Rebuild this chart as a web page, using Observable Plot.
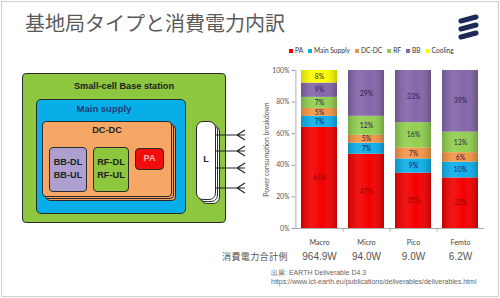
<!DOCTYPE html>
<html>
<head>
<meta charset="utf-8">
<script src="https://cdn.jsdelivr.net/npm/d3@7"></script>
<script src="https://cdn.jsdelivr.net/npm/@observablehq/plot@0.6"></script>
<style>
  html, body { margin: 0; padding: 0; background: #fff; }
  #slide { position: relative; width: 500px; height: 298px; overflow: hidden; background: #fff; font-family: "Liberation Sans", Arial, sans-serif; }
  #frame { position: absolute; left: 1px; top: 1px; width: 496px; height: 294px; border: 1px solid #cfcfcf; }
  .abs { position: absolute; }
  #title { left: 25px; top: 11px; font-family: "Noto Sans CJK JP", sans-serif; font-size: 20px; line-height: 24px; color: #5a5a5a; white-space: nowrap; }
  .box { position: absolute; box-sizing: border-box; border: 1.3px solid #2a2a2a; }
  .lbl { position: absolute; font-weight: bold; white-space: nowrap; text-align: center; }
  #legend { position: absolute; left: 289px; top: 46px; display: flex; gap: 5px; font-family: Lato, sans-serif; font-size: 6.6px; color: #333; white-space: nowrap; }
  #legend span.sw { display: inline-block; width: 4px; height: 4px; margin-right: 2px; vertical-align: 0px; }
  #chart { position: absolute; left: 250px; top: 60px; }
  #totalLabel { left: 222px; top: 250px; font-family: "Noto Sans CJK JP", sans-serif; font-size: 9px; color: #555; letter-spacing: 0.4px; }
  #source { left: 271px; top: 268px; font-size: 7px; line-height: 9px; color: #666; }
</style>
</head>
<body>
<div id="slide">
  <div id="frame"></div>
  <div id="title" class="abs">基地局タイプと消費電力内訳</div>
  <svg class="abs" style="left:455px;top:14px" width="28" height="28" viewBox="0 0 28 28">
    <g stroke="#1d2a57" stroke-width="5" stroke-linecap="round">
      <line x1="6" y1="7" x2="21" y2="3"/>
      <line x1="6" y1="15" x2="21" y2="11"/>
      <line x1="6" y1="23" x2="21" y2="19"/>
    </g>
  </svg>

  <!-- block diagram -->
  <div class="box" style="left:22px;top:73px;width:204px;height:150px;background:#8dc63f;border-radius:4px;"></div>
  <div class="lbl" style="left:22px;top:81px;width:204px;font-size:9.2px;color:#222;">Small-cell Base station</div>
  <div class="box" style="left:36px;top:99px;width:150px;height:115px;background:#08aee8;border-radius:5px;"></div>
  <div class="lbl" style="left:36px;top:103px;width:136px;font-size:9.5px;color:#1f3a78;">Main supply</div>
  <div class="box" style="left:46px;top:125px;width:130px;height:76px;background:#f4a262;border-radius:4px;"></div>
  <div class="box" style="left:44px;top:123px;width:130px;height:76px;background:#f4a262;border-radius:4px;"></div>
  <div class="box" style="left:42px;top:121px;width:130px;height:76px;background:#f6a766;border-radius:4px;"></div>
  <div class="lbl" style="left:42px;top:125px;width:130px;font-size:9.2px;color:#222;">DC-DC</div>
  <div class="box" style="left:49px;top:147px;width:38px;height:45px;background:#ada0d0;border-radius:4px;"></div>
  <div class="lbl" style="left:49px;top:156px;width:38px;font-size:9.2px;line-height:13px;color:#222;">BB-DL<br>BB-UL</div>
  <div class="box" style="left:93px;top:147px;width:36px;height:45px;background:#8dc63f;border-radius:4px;"></div>
  <div class="lbl" style="left:93px;top:156px;width:36px;font-size:9.2px;line-height:13px;color:#222;">RF-DL<br>RF-UL</div>
  <div class="box" style="left:135px;top:148px;width:29px;height:22px;background:#f20d0d;border-radius:4px;"></div>
  <div class="lbl" style="left:135px;top:153px;width:29px;font-size:9px;color:#f7b5b5;">PA</div>
  <div class="box" style="left:200px;top:125px;width:20px;height:79px;background:#fff;border-radius:7px;"></div>
  <div class="box" style="left:198px;top:123px;width:20px;height:79px;background:#fff;border-radius:7px;"></div>
  <div class="box" style="left:196px;top:121px;width:20px;height:79px;background:#fff;border-radius:7px;"></div>
  <div class="lbl" style="left:196px;top:154px;width:20px;font-size:9px;color:#222;">L</div>
  <svg class="abs" style="left:215px;top:125px" width="35" height="75">
    <g stroke="#222" stroke-width="1.1" fill="none">
      <path d="M0,10 H30 M22,10 L30,5 M22,10 L30,15"/>
      <path d="M0,26 H30 M22,26 L30,21 M22,26 L30,31"/>
      <path d="M0,43 H30 M22,43 L30,38 M22,43 L30,48"/>
      <path d="M0,63 H30 M22,63 L30,58 M22,63 L30,68"/>
    </g>
  </svg>

  <div id="legend"></div>
  <div id="chart"></div>
  <div id="totalLabel" class="abs">消費電力合計例</div>
  <div id="source" class="abs">出展: EARTH Deliverable D4.3<br>https://www.ict-earth.eu/publications/deliverables/deliverables.html</div>
</div>
<script>
const categories = ["Macro", "Micro", "Pico", "Femto"];
const components = ["PA", "Main Supply", "DC-DC", "RF", "BB", "Cooling"];
const componentColors = ["#f40000", "#0db0ec", "#f79646", "#92d050", "#8566aa", "#ffff00"];
const paValues = [64, 47, 35, 32];
const mainSupplyValues = [7, 7, 9, 10];
const dcdcValues = [5, 5, 7, 6];
const rfValues = [7, 12, 16, 13];
const bbValues = [9, 29, 33, 39];
const coolingValues = [8, 0, 0, 0];
const totalPower = ["964.9W", "94.0W", "9.0W", "6.2W"];
const yTicks = [0, 20, 40, 60, 80, 100];

const seriesValues = [paValues, mainSupplyValues, dcdcValues, rfValues, bbValues, coolingValues];
const data = [];
categories.forEach((cat, i) => {
  components.forEach((comp, j) => {
    data.push({cat, comp, value: seriesValues[j][i]});
  });
});
const totals = categories.map((cat, i) => ({cat, total: totalPower[i]}));

// legend
const legend = document.getElementById("legend");
components.forEach((c, i) => {
  const item = document.createElement("span");
  item.innerHTML = `<span class="sw" style="background:${componentColors[i]}"></span>${c}`;
  legend.appendChild(item);
});

const shadeDefs = () => {
  const defs = d3.create("svg:defs");
  const g = defs.append("linearGradient").attr("id", "barShade").attr("x1", "0").attr("x2", "1").attr("y1", "0").attr("y2", "0");
  g.append("stop").attr("offset", "0%").attr("stop-color", "#000").attr("stop-opacity", 0.18);
  g.append("stop").attr("offset", "35%").attr("stop-color", "#fff").attr("stop-opacity", 0.08);
  g.append("stop").attr("offset", "60%").attr("stop-color", "#fff").attr("stop-opacity", 0.0);
  g.append("stop").attr("offset", "100%").attr("stop-color", "#000").attr("stop-opacity", 0.22);
  return defs.node();
};

const labelText = (d, pa) => (d.value > 0 && (d.comp === "PA") === pa) ? d.value + "%" : "";

const chart = Plot.plot({
  width: 250,
  height: 200,
  marginLeft: 45,
  marginRight: 16,
  marginTop: 10,
  marginBottom: 32,
  style: {fontFamily: "Lato, sans-serif", fontSize: "7px", color: "#444", background: "transparent", overflow: "visible"},
  x: {domain: categories, paddingInner: 0.235, paddingOuter: 0.12},
  y: {domain: [0, 100]},
  color: {domain: components, range: componentColors},
  marks: [
    shadeDefs,
    Plot.barY(data, Plot.stackY({x: "cat", y: "value", fill: "comp", order: components})),
    Plot.barY(categories, {x: d => d, y: 100, fill: "url(#barShade)"}),
    Plot.text(data, Plot.stackY({x: "cat", y: "value", z: "comp", order: components, text: d => labelText(d, false), fill: "#2b2152", fontSize: 6.8})),
    Plot.text(data, Plot.stackY({x: "cat", y: "value", z: "comp", order: components, text: d => labelText(d, true), fill: "#8a0a0a", fontSize: 6.8})),
    Plot.ruleY([0], {stroke: "#999", strokeWidth: 0.8}),
    Plot.ruleX([categories[0]], {y1: 0, y2: 100, dx: -23.6, stroke: "#999", strokeWidth: 0.8}),
    Plot.ruleX(categories.slice(0, 3), {y1: 0, y2: -2.4, dx: 23.6, stroke: "#999", strokeWidth: 0.8}),
    Plot.axisY({ticks: yTicks, tickFormat: d => d + "%", tickSize: 3.5, tickPadding: 2.5, stroke: "#999", fill: "#555", fontSize: 6.8,
      label: "Power consumption breakdown", labelAnchor: "center", labelArrow: "none", labelOffset: 31}),
    Plot.axisX({tickSize: 0, tickPadding: 11, label: null, fontSize: 7.2, fill: "#444"}),
    Plot.text(totals, {x: "cat", y: 0, text: "total", dy: 28.5, fontSize: 10, fill: "#555", fontFamily: "Liberation Sans, Arial, sans-serif"})
  ]
});
document.getElementById("chart").appendChild(chart);
</script>
</body>
</html>
